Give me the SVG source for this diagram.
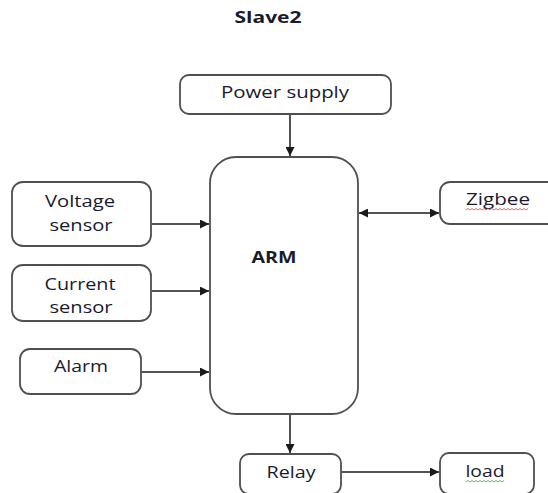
<svg xmlns="http://www.w3.org/2000/svg" width="548" height="493" viewBox="0 0 548 493">
<defs>
<style>
.box{fill:#fff;stroke:#505050;stroke-width:1.8}
.t{font-family:"Open Sans","Liberation Sans",sans-serif;font-size:16px;fill:#1a1a2e;text-anchor:middle}
.b{font-weight:bold}
.c{stroke:#1a1a1a;stroke-width:1.5;fill:none}
</style>
<marker id="ah" viewBox="0 0 10 10" refX="10" refY="5" markerWidth="10" markerHeight="9" markerUnits="userSpaceOnUse" orient="auto-start-reverse">
<path d="M0,0 L10,5 L0,10 Z" fill="#1a1a1a"/>
</marker>
</defs>
<rect width="548" height="493" fill="#fff"/>
<text class="t b" x="268" y="23" font-size="15" textLength="67" lengthAdjust="spacingAndGlyphs">Slave2</text>

<g id="connectors">
<line class="c" x1="290" y1="114" x2="290" y2="156" marker-end="url(#ah)"/>
<line class="c" x1="152" y1="224" x2="209" y2="224" marker-end="url(#ah)"/>
<line class="c" x1="152" y1="291" x2="209" y2="291" marker-end="url(#ah)"/>
<line class="c" x1="141" y1="372" x2="209" y2="372" marker-end="url(#ah)"/>
<line class="c" x1="359" y1="213" x2="439" y2="213" marker-start="url(#ah)" marker-end="url(#ah)"/>
<line class="c" x1="290" y1="414" x2="290" y2="453" marker-end="url(#ah)"/>
<line class="c" x1="341" y1="472" x2="439" y2="472" marker-end="url(#ah)"/>
</g>

<g id="power">
<rect class="box" x="180" y="75" width="211" height="39" rx="9"/>
<text class="t" x="285" y="98" textLength="128" lengthAdjust="spacingAndGlyphs">Power supply</text>
</g>
<g id="arm">
<rect class="box" x="210" y="157" width="148" height="257" rx="26"/>
<text class="t b" x="274" y="263" textLength="45" lengthAdjust="spacingAndGlyphs">ARM</text>
</g>
<g id="voltage">
<rect class="box" x="12" y="182" width="139" height="64" rx="11"/>
<text class="t" x="80" y="207" textLength="70" lengthAdjust="spacingAndGlyphs">Voltage</text>
<text class="t" x="81" y="231" textLength="63" lengthAdjust="spacingAndGlyphs">sensor</text>
</g>
<g id="current">
<rect class="box" x="12" y="265" width="139" height="56" rx="11"/>
<text class="t" x="80" y="290" textLength="71" lengthAdjust="spacingAndGlyphs">Current</text>
<text class="t" x="81" y="313" textLength="63" lengthAdjust="spacingAndGlyphs">sensor</text>
</g>
<g id="alarm">
<rect class="box" x="20" y="349" width="121" height="45" rx="10"/>
<text class="t" x="81" y="372" textLength="54" lengthAdjust="spacingAndGlyphs">Alarm</text>
</g>
<g id="zigbee">
<rect class="box" x="440" y="182" width="120" height="42" rx="10"/>
<text class="t" x="498" y="205" textLength="64" lengthAdjust="spacingAndGlyphs">Zigbee</text>
<path d="M466,210 l2,-1.5 l2,1.5 l2,-1.5 l2,1.5 l2,-1.5 l2,1.5 l2,-1.5 l2,1.5 l2,-1.5 l2,1.5 l2,-1.5 l2,1.5 l2,-1.5 l2,1.5 l2,-1.5 l2,1.5 l2,-1.5 l2,1.5 l2,-1.5 l2,1.5 l2,-1.5 l2,1.5 l2,-1.5 l2,1.5 l2,-1.5 l2,1.5 l2,-1.5 l2,1.5 l2,-1.5 l2,1.5 l2,-1.5" fill="none" stroke="#e04040" stroke-width="0.8"/>
</g>
<g id="relay">
<rect class="box" x="240" y="454" width="101" height="40" rx="9"/>
<text class="t" x="291" y="478" textLength="49" lengthAdjust="spacingAndGlyphs">Relay</text>
</g>
<g id="load">
<rect class="box" x="440" y="453" width="94" height="41" rx="9"/>
<text class="t" x="485" y="477" textLength="39" lengthAdjust="spacingAndGlyphs">load</text>
<path d="M466,482 l2,-1.5 l2,1.5 l2,-1.5 l2,1.5 l2,-1.5 l2,1.5 l2,-1.5 l2,1.5 l2,-1.5 l2,1.5 l2,-1.5 l2,1.5 l2,-1.5 l2,1.5 l2,-1.5 l2,1.5 l2,-1.5 l2,1.5 l2,-1.5" fill="none" stroke="#40a040" stroke-width="0.8"/>
</g>
</svg>
